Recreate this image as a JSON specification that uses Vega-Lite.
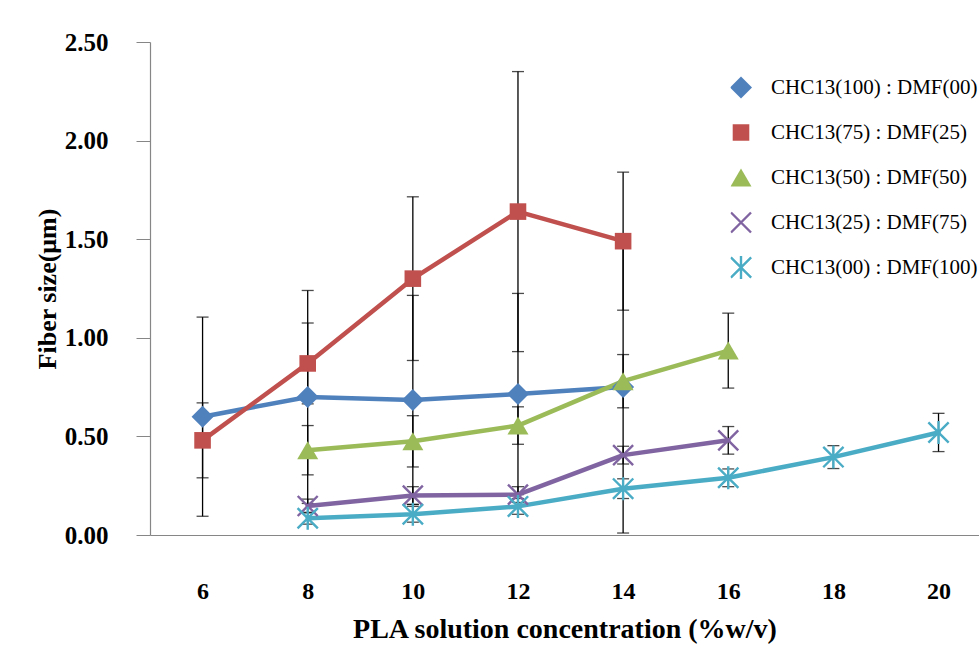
{
  "$schema": "https://vega.github.io/schema/vega-lite/v6.json",
  "width": 829,
  "height": 493,
  "autosize": {"type": "none"},
  "padding": {"left": 150, "top": 42, "right": 0, "bottom": 121},
  "background": "white",
  "data": {
    "values": [
      {"series": "CHC13(100) : DMF(00)", "conc": 6, "size": 0.60, "err": 0.505},
      {"series": "CHC13(100) : DMF(00)", "conc": 8, "size": 0.70, "err": 0.54},
      {"series": "CHC13(100) : DMF(00)", "conc": 10, "size": 0.685, "err": 0.53},
      {"series": "CHC13(100) : DMF(00)", "conc": 12, "size": 0.715, "err": 0.51},
      {"series": "CHC13(100) : DMF(00)", "conc": 14, "size": 0.75, "err": 0.74},
      {"series": "CHC13(75) : DMF(25)", "conc": 6, "size": 0.48, "err": 0.19},
      {"series": "CHC13(75) : DMF(25)", "conc": 8, "size": 0.87, "err": 0.205},
      {"series": "CHC13(75) : DMF(25)", "conc": 10, "size": 1.30, "err": 0.415},
      {"series": "CHC13(75) : DMF(25)", "conc": 12, "size": 1.64, "err": 0.71},
      {"series": "CHC13(75) : DMF(25)", "conc": 14, "size": 1.49, "err": 0.35},
      {"series": "CHC13(50) : DMF(50)", "conc": 8, "size": 0.43, "err": 0.125},
      {"series": "CHC13(50) : DMF(50)", "conc": 10, "size": 0.475, "err": 0.13},
      {"series": "CHC13(50) : DMF(50)", "conc": 12, "size": 0.555, "err": 0.095},
      {"series": "CHC13(50) : DMF(50)", "conc": 14, "size": 0.78, "err": 0.135},
      {"series": "CHC13(50) : DMF(50)", "conc": 16, "size": 0.935, "err": 0.19},
      {"series": "CHC13(25) : DMF(75)", "conc": 8, "size": 0.147, "err": 0.035},
      {"series": "CHC13(25) : DMF(75)", "conc": 10, "size": 0.20, "err": 0.045},
      {"series": "CHC13(25) : DMF(75)", "conc": 12, "size": 0.205, "err": 0.04},
      {"series": "CHC13(25) : DMF(75)", "conc": 14, "size": 0.405, "err": 0.045},
      {"series": "CHC13(25) : DMF(75)", "conc": 16, "size": 0.48, "err": 0.07},
      {"series": "CHC13(00) : DMF(100)", "conc": 8, "size": 0.085, "err": 0.03},
      {"series": "CHC13(00) : DMF(100)", "conc": 10, "size": 0.105, "err": 0.04},
      {"series": "CHC13(00) : DMF(100)", "conc": 12, "size": 0.145, "err": 0.04},
      {"series": "CHC13(00) : DMF(100)", "conc": 14, "size": 0.235, "err": 0.05},
      {"series": "CHC13(00) : DMF(100)", "conc": 16, "size": 0.29, "err": 0.045},
      {"series": "CHC13(00) : DMF(100)", "conc": 18, "size": 0.395, "err": 0.058},
      {"series": "CHC13(00) : DMF(100)", "conc": 20, "size": 0.52, "err": 0.097}
    ]
  },
  "encoding": {
    "x": {
      "field": "conc", "type": "quantitative",
      "scale": {"domain": [5, 20.77], "nice": false, "zero": false},
      "axis": {
        "values": [6, 8, 10, 12, 14, 16, 18, 20],
        "ticks": false, "tickSize": 0, "labelPadding": 44, "labelFontSize": 24,
        "labelFlush": false,
        "title": "PLA solution concentration (%w/v)", "titleFontSize": 28,
        "titleFontWeight": "bold", "titlePadding": 12
      }
    },
    "y": {
      "field": "size", "type": "quantitative",
      "scale": {"domain": [0, 2.5], "nice": false},
      "axis": {
        "values": [0, 0.5, 1, 1.5, 2, 2.5], "format": ".2f",
        "tickSize": 14, "labelPadding": 28, "labelFontSize": 25,
        "title": "Fiber size(μm)", "titleFontSize": 26, "titleFontWeight": "bold",
        "titlePadding": 4
      }
    }
  },
  "layer": [
    {
      "mark": {
        "type": "errorbar",
        "color": "black",
        "ticks": {"size": 12, "thickness": 1.3, "color": "black"},
        "rule": {"strokeWidth": 1.3, "color": "black"}
      },
      "encoding": {"yError": {"field": "err"}}
    },
    {
      "mark": {"type": "line", "strokeWidth": 4.5, "strokeCap": "round", "strokeJoin": "round"},
      "encoding": {
        "color": {
          "field": "series", "type": "nominal",
          "scale": {
            "domain": ["CHC13(100) : DMF(00)", "CHC13(75) : DMF(25)", "CHC13(50) : DMF(50)", "CHC13(25) : DMF(75)", "CHC13(00) : DMF(100)"],
            "range": ["#4F81BD", "#C0504D", "#9BBB59", "#8064A2", "#4BACC6"]
          },
          "legend": {
            "orient": "none", "legendX": 580.5, "legendY": 23, "title": null,
            "symbolSize": 400, "symbolStrokeWidth": 0, "symbolOpacity": 1,
            "labelFont": "Liberation Serif", "labelFontSize": 21, "labelFontWeight": "normal",
            "labelColor": "black", "labelOffset": 19.5, "clipHeight": 45, "rowPadding": 0,
            "padding": 0, "labelLimit": 400
          }
        }
      }
    },
    {
      "mark": {"type": "point", "filled": true, "opacity": 1, "strokeWidth": 0, "size": 400},
      "encoding": {
        "fill": {
          "field": "series", "type": "nominal",
          "scale": {
            "domain": ["CHC13(100) : DMF(00)", "CHC13(75) : DMF(25)", "CHC13(50) : DMF(50)", "CHC13(25) : DMF(75)", "CHC13(00) : DMF(100)"],
            "range": ["#4F81BD", "#C0504D", "#9BBB59", "#8064A2", "#4BACC6"]
          },
          "legend": {
            "orient": "none", "legendX": 580.5, "legendY": 23, "title": null,
            "symbolSize": 400, "symbolStrokeWidth": 0, "symbolOpacity": 1,
            "labelFont": "Liberation Serif", "labelFontSize": 21, "labelFontWeight": "normal",
            "labelColor": "black", "labelOffset": 19.5, "clipHeight": 45, "rowPadding": 0,
            "padding": 0, "labelLimit": 400
          }
        },
        "shape": {
          "field": "series", "type": "nominal",
          "scale": {
            "domain": ["CHC13(100) : DMF(00)", "CHC13(75) : DMF(25)", "CHC13(50) : DMF(50)", "CHC13(25) : DMF(75)", "CHC13(00) : DMF(100)"],
            "range": [
              "M0,-1.1L-1.1,0L0,1.1L1.1,0Z",
              "M-0.83,-0.83L-0.83,0.83L0.83,0.83L0.83,-0.83Z",
              "M0,-0.9L-1.05,0.9L1.05,0.9Z",
              "M-1.085,-0.915L0.915,1.085L1.085,0.915L-0.915,-1.085ZM-0.915,1.085L1.085,-0.915L0.915,-1.085L-1.085,0.915Z",
              "M-1.1,-0.93L0.93,1.1L1.1,0.93L-0.93,-1.1ZM-0.93,1.1L1.1,-0.93L0.93,-1.1L-1.1,0.93ZM-0.12,-1.15L-0.12,1.15L0.12,1.15L0.12,-1.15Z"
            ]
          },
          "legend": {
            "orient": "none", "legendX": 580.5, "legendY": 23, "title": null,
            "symbolSize": 400, "symbolStrokeWidth": 0, "symbolOpacity": 1,
            "labelFont": "Liberation Serif", "labelFontSize": 21, "labelFontWeight": "normal",
            "labelColor": "black", "labelOffset": 19.5, "clipHeight": 45, "rowPadding": 0,
            "padding": 0, "labelLimit": 400
          }
        }
      }
    }
  ],
  "config": {
    "view": {"stroke": null},
    "axis": {
      "grid": false, "domainColor": "#868686", "tickColor": "#868686", "domainWidth": 1.2,
      "labelFont": "Liberation Serif", "labelFontWeight": "bold", "labelColor": "black",
      "titleFont": "Liberation Serif", "titleColor": "black"
    },
    "legend": {"labelFont": "Liberation Serif"}
  }
}
